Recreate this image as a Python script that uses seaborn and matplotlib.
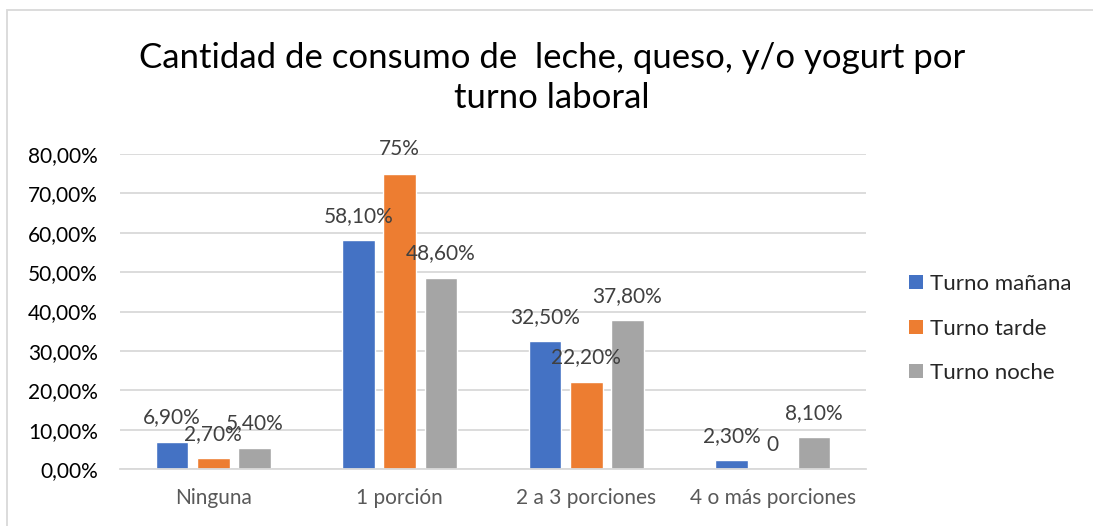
import matplotlib
matplotlib.use("Agg")
import matplotlib.pyplot as plt
from matplotlib.patches import Rectangle, Patch
from matplotlib.ticker import FuncFormatter, MultipleLocator
import seaborn as sns
import pandas as pd

categories = ["Ninguna", "1 porción", "2 a 3 porciones", "4 o más porciones"]
series = ["Turno mañana", "Turno tarde", "Turno noche"]
manana = [6.9, 58.1, 32.5, 2.3]
tarde = [2.7, 75.0, 22.2, 0.0]
noche = [5.4, 48.6, 37.8, 8.1]
labels_manana = ["6,90%", "58,10%", "32,50%", "2,30%"]
labels_tarde = ["2,70%", "75%", "22,20%", "0"]
labels_noche = ["5,40%", "48,60%", "37,80%", "8,10%"]
colors = ["#4472C4", "#ED7D31", "#A5A5A5"]
title = "Cantidad de consumo de  leche, queso, y/o yogurt por\nturno laboral"

sns.set_theme(style="white")
plt.rcParams["font.family"] = ["Lato", "DejaVu Sans"]

rows = []
for s, vals in zip(series, [manana, tarde, noche]):
    for c, v in zip(categories, vals):
        rows.append({"cat": c, "serie": s, "val": v})
df = pd.DataFrame(rows)

W, H = 1093, 526
fig = plt.figure(figsize=(W / 100, H / 100), dpi=100)
ax = fig.add_axes([120 / W, 1 - 469 / H, (866 - 120) / W, (469 - 154) / H])

sns.barplot(data=df, x="cat", y="val", hue="serie", hue_order=series,
            order=categories, palette=colors, width=0.664, gap=0.21,
            saturation=1, errorbar=None, ax=ax, legend=False)

ax.set_ylim(0, 80)
ax.set_xlim(-0.5, 3.5)
ax.yaxis.set_major_locator(MultipleLocator(10))
ax.yaxis.set_major_formatter(FuncFormatter(lambda v, p: f"{v:.2f}".replace(".", ",") + "%"))
ax.grid(axis="y", color="#D9D9D9", linewidth=1.3)
ax.set_axisbelow(True)
for sp in ["top", "right", "left"]:
    ax.spines[sp].set_visible(False)
ax.spines["bottom"].set_color("#D9D9D9")
ax.spines["bottom"].set_linewidth(1.3)
ax.tick_params(axis="y", length=0, pad=16, labelsize=15, labelcolor="#000000")
ax.tick_params(axis="x", length=0, pad=14, labelsize=15, labelcolor="#595959")
ax.set_xlabel("")
ax.set_ylabel("")

all_labels = [labels_manana, labels_tarde, labels_noche]
for cont, labs in zip(ax.containers, all_labels):
    for bar, lab in zip(cont, labs):
        x = bar.get_x() + bar.get_width() / 2
        y = bar.get_height()
        ax.annotate(lab, (x, y), xytext=(0, 17.5), textcoords="offset points",
                    ha="center", va="center", fontsize=15, color="#404040")

fig.text(552 / W, 1 - 78 / H, title, ha="center", va="center",
         fontsize=25, color="#000000", linespacing=1.3)

handles = [Patch(facecolor=c, edgecolor="none") for c in colors]
leg = fig.legend(handles, series, loc="upper left",
                 bbox_to_anchor=(898 / W, 1 - 263 / H), frameon=False,
                 fontsize=16, handlelength=0.62, handleheight=0.62,
                 handletextpad=0.3, labelspacing=1.1, borderpad=0)

fig.add_artist(Rectangle((7 / W, -0.1), 1.2, 1 - 10 / H + 0.1,
                         transform=fig.transFigure, fill=False,
                         edgecolor="#D9D9D9", linewidth=1.3))

fig.savefig("out.png", dpi=100)
